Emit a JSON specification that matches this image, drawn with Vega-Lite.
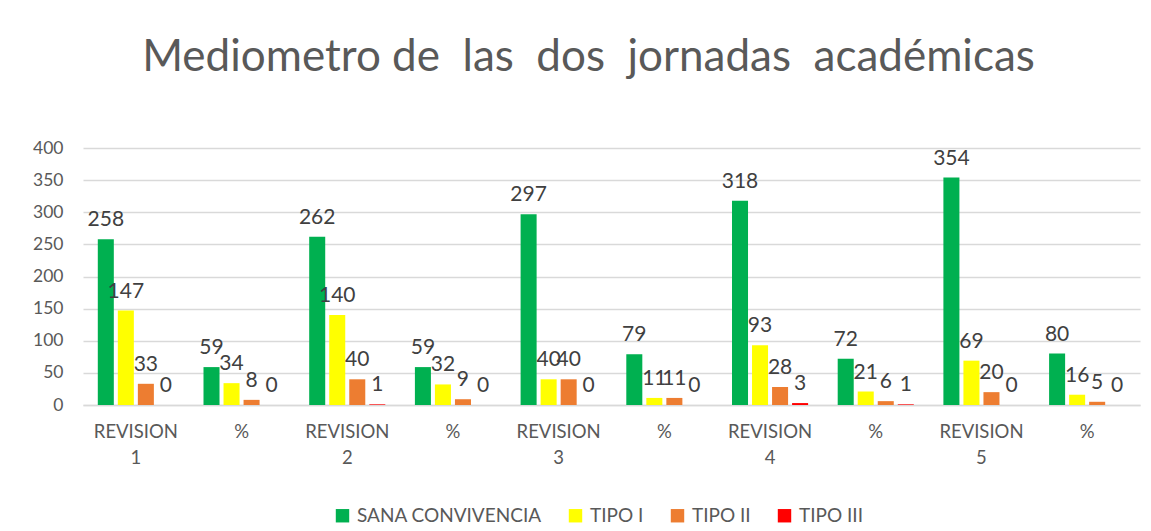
{
  "$schema": "https://vega.github.io/schema/vega-lite/v6.json",
  "autosize": "none",
  "width": 1057,
  "height": 257,
  "padding": {"left": 83, "top": 148, "right": 11, "bottom": 126},
  "background": "white",
  "title": {
    "text": "Mediometro de\u00a0 las\u00a0 dos\u00a0 jornadas\u00a0 académicas",
    "fontSize": 44,
    "font": "Lato",
    "fontWeight": "normal",
    "color": "#595959",
    "anchor": "middle",
    "dx": -23,
    "offset": 59
  },
  "data": {
    "values": [
      {"cat": "REVISION 1", "serie": "SANA CONVIVENCIA", "value": 258},
      {"cat": "REVISION 1", "serie": "TIPO I", "value": 147},
      {"cat": "REVISION 1", "serie": "TIPO II", "value": 33},
      {"cat": "REVISION 1", "serie": "TIPO III", "value": 0},
      {"cat": "% 1", "serie": "SANA CONVIVENCIA", "value": 59},
      {"cat": "% 1", "serie": "TIPO I", "value": 34},
      {"cat": "% 1", "serie": "TIPO II", "value": 8},
      {"cat": "% 1", "serie": "TIPO III", "value": 0},
      {"cat": "REVISION 2", "serie": "SANA CONVIVENCIA", "value": 262},
      {"cat": "REVISION 2", "serie": "TIPO I", "value": 140},
      {"cat": "REVISION 2", "serie": "TIPO II", "value": 40},
      {"cat": "REVISION 2", "serie": "TIPO III", "value": 1},
      {"cat": "% 2", "serie": "SANA CONVIVENCIA", "value": 59},
      {"cat": "% 2", "serie": "TIPO I", "value": 32},
      {"cat": "% 2", "serie": "TIPO II", "value": 9},
      {"cat": "% 2", "serie": "TIPO III", "value": 0},
      {"cat": "REVISION 3", "serie": "SANA CONVIVENCIA", "value": 297},
      {"cat": "REVISION 3", "serie": "TIPO I", "value": 40},
      {"cat": "REVISION 3", "serie": "TIPO II", "value": 40},
      {"cat": "REVISION 3", "serie": "TIPO III", "value": 0},
      {"cat": "% 3", "serie": "SANA CONVIVENCIA", "value": 79},
      {"cat": "% 3", "serie": "TIPO I", "value": 11},
      {"cat": "% 3", "serie": "TIPO II", "value": 11},
      {"cat": "% 3", "serie": "TIPO III", "value": 0},
      {"cat": "REVISION 4", "serie": "SANA CONVIVENCIA", "value": 318},
      {"cat": "REVISION 4", "serie": "TIPO I", "value": 93},
      {"cat": "REVISION 4", "serie": "TIPO II", "value": 28},
      {"cat": "REVISION 4", "serie": "TIPO III", "value": 3},
      {"cat": "% 4", "serie": "SANA CONVIVENCIA", "value": 72},
      {"cat": "% 4", "serie": "TIPO I", "value": 21},
      {"cat": "% 4", "serie": "TIPO II", "value": 6},
      {"cat": "% 4", "serie": "TIPO III", "value": 1},
      {"cat": "REVISION 5", "serie": "SANA CONVIVENCIA", "value": 354},
      {"cat": "REVISION 5", "serie": "TIPO I", "value": 69},
      {"cat": "REVISION 5", "serie": "TIPO II", "value": 20},
      {"cat": "REVISION 5", "serie": "TIPO III", "value": 0},
      {"cat": "% 5", "serie": "SANA CONVIVENCIA", "value": 80},
      {"cat": "% 5", "serie": "TIPO I", "value": 16},
      {"cat": "% 5", "serie": "TIPO II", "value": 5},
      {"cat": "% 5", "serie": "TIPO III", "value": 0}
    ]
  },
  "encoding": {
    "x": {
      "field": "cat",
      "type": "nominal",
      "sort": null,
      "title": null,
      "scale": {"paddingInner": 0.28, "paddingOuter": 0.14},
      "axis": {
        "labelAngle": 0,
        "labelExpr": "indexof(datum.value, '%') == 0 ? '%' : split(datum.value, ' ')",
        "labelFontSize": 18.5,
        "labelFont": "Lato",
        "labelColor": "#595959",
        "labelPadding": 17,
        "labelLineHeight": 26,
        "ticks": false,
        "domainColor": "#d9d9d9",
        "domainWidth": 1.5
      }
    },
    "xOffset": {
      "field": "serie",
      "type": "nominal",
      "sort": ["SANA CONVIVENCIA", "TIPO I", "TIPO II", "TIPO III"],
      "scale": {"paddingInner": 0.2}
    },
    "y": {
      "field": "value",
      "type": "quantitative",
      "title": null,
      "scale": {"domain": [0, 400]},
      "axis": {
        "values": [0, 50, 100, 150, 200, 250, 300, 350, 400],
        "labelFontSize": 17.5,
        "labelFont": "Lato",
        "labelColor": "#595959",
        "labelPadding": 20,
        "ticks": false,
        "domain": false,
        "gridColor": "#d9d9d9",
        "gridWidth": 1.5
      }
    }
  },
  "layer": [
    {
      "mark": {"type": "bar"},
      "encoding": {
        "color": {
          "field": "serie",
          "type": "nominal",
          "sort": ["SANA CONVIVENCIA", "TIPO I", "TIPO II", "TIPO III"],
          "scale": {
            "domain": ["SANA CONVIVENCIA", "TIPO I", "TIPO II", "TIPO III"],
            "range": ["#00B050", "#FFFF00", "#ED7D31", "#FF0000"]
          },
          "legend": {
            "title": null,
            "orient": "none",
            "legendX": 250,
            "legendY": 358,
            "direction": "horizontal",
            "symbolType": "square",
            "symbolSize": 180,
            "symbolStrokeWidth": 0,
            "labelFontSize": 19,
            "labelFont": "Lato",
            "labelColor": "#595959",
            "labelLimit": 400,
            "columnPadding": 24,
            "labelOffset": 5
          }
        }
      }
    },
    {
      "mark": {"type": "text", "baseline": "bottom", "dy": -9, "fontSize": 21, "font": "Lato", "color": "#404040"},
      "encoding": {
        "text": {"field": "value", "type": "quantitative"}
      }
    }
  ],
  "config": {
    "view": {"stroke": null}
  }
}
